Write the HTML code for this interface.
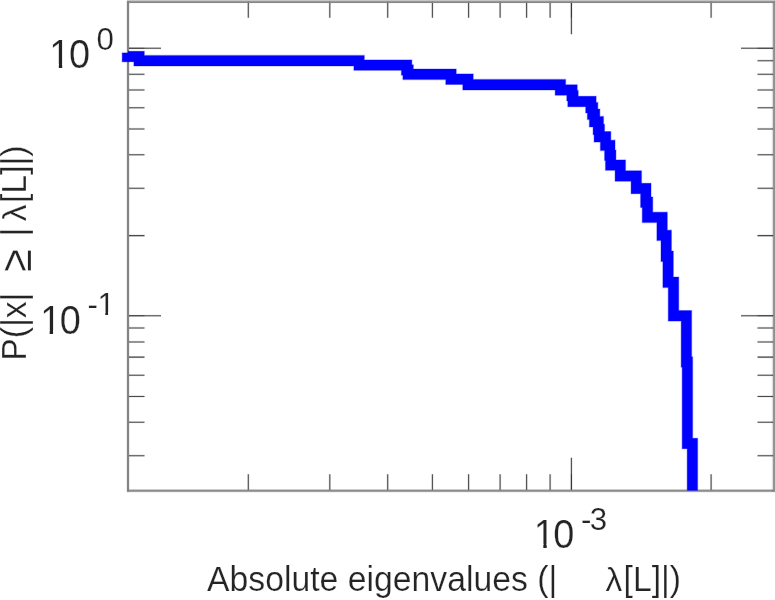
<!DOCTYPE html>
<html lang="en"><head><meta charset="utf-8"><title>Absolute eigenvalues CCDF</title>
<style>html,body{margin:0;padding:0;background:#fff;}body{width:775px;height:600px;overflow:hidden;}svg{display:block;}text{font-family:"Liberation Sans",sans-serif;fill:#242424;stroke:#fff;stroke-width:0.22px;}</style></head><body>
<svg width="775" height="600" viewBox="0 0 775 600">
<rect width="775" height="600" fill="#fff"/>
<defs><clipPath id="cb"><rect x="128" y="0" width="647" height="491.6"/></clipPath></defs>
<g>
<g fill="none" stroke-linecap="butt">
<path d="M248.3 490.7 v-16.5 M248.3 1.2 v16.5 M329.8 490.7 v-16.5 M329.8 1.2 v16.5 M387.7 490.7 v-16.5 M387.7 1.2 v16.5 M432.4 490.7 v-16.5 M432.4 1.2 v16.5 M468.6 490.7 v-16.5 M468.6 1.2 v16.5 M500.1 490.7 v-16.5 M500.1 1.2 v16.5 M526.6 490.7 v-16.5 M526.6 1.2 v16.5 M550.1 490.7 v-16.5 M550.1 1.2 v16.5 M711.1 490.7 v-16.5 M711.1 1.2 v16.5 M128.0 60.7 h16.5 M774.0 60.7 h-16.5 M128.0 74.3 h16.5 M774.0 74.3 h-16.5 M128.0 89.9 h16.5 M774.0 89.9 h-16.5 M128.0 107.8 h16.5 M774.0 107.8 h-16.5 M128.0 128.9 h16.5 M774.0 128.9 h-16.5 M128.0 154.8 h16.5 M774.0 154.8 h-16.5 M128.0 188.3 h16.5 M774.0 188.3 h-16.5 M128.0 235.6 h16.5 M774.0 235.6 h-16.5 M128.0 327.9 h16.5 M774.0 327.9 h-16.5 M128.0 341.9 h16.5 M774.0 341.9 h-16.5 M128.0 357.1 h16.5 M774.0 357.1 h-16.5 M128.0 375.2 h16.5 M774.0 375.2 h-16.5 M128.0 396.4 h16.5 M774.0 396.4 h-16.5 M128.0 422.2 h16.5 M774.0 422.2 h-16.5 M128.0 455.7 h16.5 M774.0 455.7 h-16.5 M571.4 490.7 v-33.0 M571.4 1.2 v33.0 M128.0 48.2 h33.0 M774.0 48.2 h-33.0 M128.0 315.8 h33.0 M774.0 315.8 h-33.0" stroke="#000" stroke-opacity="0.12" stroke-width="2.3"/>
<path d="M248.3 490.7 v-16.5 M248.3 1.2 v16.5 M329.8 490.7 v-16.5 M329.8 1.2 v16.5 M387.7 490.7 v-16.5 M387.7 1.2 v16.5 M432.4 490.7 v-16.5 M432.4 1.2 v16.5 M468.6 490.7 v-16.5 M468.6 1.2 v16.5 M500.1 490.7 v-16.5 M500.1 1.2 v16.5 M526.6 490.7 v-16.5 M526.6 1.2 v16.5 M550.1 490.7 v-16.5 M550.1 1.2 v16.5 M711.1 490.7 v-16.5 M711.1 1.2 v16.5 M128.0 60.7 h16.5 M774.0 60.7 h-16.5 M128.0 74.3 h16.5 M774.0 74.3 h-16.5 M128.0 89.9 h16.5 M774.0 89.9 h-16.5 M128.0 107.8 h16.5 M774.0 107.8 h-16.5 M128.0 128.9 h16.5 M774.0 128.9 h-16.5 M128.0 154.8 h16.5 M774.0 154.8 h-16.5 M128.0 188.3 h16.5 M774.0 188.3 h-16.5 M128.0 235.6 h16.5 M774.0 235.6 h-16.5 M128.0 327.9 h16.5 M774.0 327.9 h-16.5 M128.0 341.9 h16.5 M774.0 341.9 h-16.5 M128.0 357.1 h16.5 M774.0 357.1 h-16.5 M128.0 375.2 h16.5 M774.0 375.2 h-16.5 M128.0 396.4 h16.5 M774.0 396.4 h-16.5 M128.0 422.2 h16.5 M774.0 422.2 h-16.5 M128.0 455.7 h16.5 M774.0 455.7 h-16.5 M571.4 490.7 v-33.0 M571.4 1.2 v33.0 M128.0 48.2 h33.0 M774.0 48.2 h-33.0 M128.0 315.8 h33.0 M774.0 315.8 h-33.0" stroke="#4a4a4a" stroke-width="1.05"/>
<path d="M571.4 490.7 v-16.5 M571.4 1.2 v16.5 M128.0 48.2 h16.5 M774.0 48.2 h-16.5 M128.0 315.8 h16.5 M774.0 315.8 h-16.5" stroke="#1c1c1c" stroke-opacity="0.5" stroke-width="1.05"/>
</g>
<g fill="none">
<path d="M128.0 1 V491.9" stroke="#000" stroke-opacity="0.1" stroke-width="3.4"/>
<path d="M128.0 1 V491.7" stroke="#848484" stroke-width="2"/>
<path d="M127.0 490.7 H776" stroke="#000" stroke-opacity="0.1" stroke-width="3.4"/>
<path d="M127.0 490.7 H776" stroke="#8a8a8a" stroke-width="2"/>
<path d="M774.8 1 V491.7" stroke="#000" stroke-opacity="0.12" stroke-width="6"/>
<path d="M774.6 1 V491.7" stroke="#909090" stroke-width="3"/>
<rect x="127.0" y="-2" width="650" height="3.4" fill="#cacaca" stroke="none"/>
<path d="M127.0 2.0 H776" stroke="#000" stroke-opacity="0.1" stroke-width="2.6"/>
<path d="M127.0 2.1 H776" stroke="#868686" stroke-width="1.6"/>
</g>
</g>
<g>
<rect x="121.6" y="52.3" width="7" height="10.1" fill="#0000ff" fill-opacity="0.3"/>
<rect x="122.2" y="52.9" width="6.3" height="8.9" fill="#0000ff"/>
<g clip-path="url(#cb)" fill="none" stroke="#0000ff" stroke-linejoin="miter" stroke-miterlimit="10" stroke-linecap="butt"><path d="M128 56.5 L139.1 56.5 L139.1 60.7 L359.1 60.7 L359.1 65.1 L406.6 65.1 L406.6 70.0 L408.1 70.0 L408.1 74.3 L451 74.3 L451 79.2 L468 79.2 L468 84.7 L560.4 84.7 L560.4 90.0 L572.0 90.0 L572.0 95.7 L573.0 95.7 L573.0 101.5 L590.9 101.5 L590.9 107.7 L592.6 107.7 L592.6 114.3 L594.6 114.3 L594.6 121.7 L598.3 121.7 L598.3 129.5 L599.3 129.5 L599.3 136.8 L605.6 136.8 L605.6 145.4 L609.8 145.4 L609.8 155.2 L610.7 155.2 L610.7 165.1 L620.3 165.1 L620.3 176.0 L636.3 176.0 L636.3 188.5 L645.8 188.5 L645.8 202.2 L647.5 202.2 L647.5 217.4 L662.1 217.4 L662.1 235.4 L666.2 235.4 L666.2 256.3 L668.1 256.3 L668.1 282.3 L673.5 282.3 L673.5 315.8 L686.4 315.8 L686.4 362.0 L687.4 362.0 L687.4 443.5 L692.4 443.5 L692.4 490.6" stroke-width="11.7" stroke-opacity="0.3"/><path d="M128 56.5 L139.1 56.5 L139.1 60.7 L359.1 60.7 L359.1 65.1 L406.6 65.1 L406.6 70.0 L408.1 70.0 L408.1 74.3 L451 74.3 L451 79.2 L468 79.2 L468 84.7 L560.4 84.7 L560.4 90.0 L572.0 90.0 L572.0 95.7 L573.0 95.7 L573.0 101.5 L590.9 101.5 L590.9 107.7 L592.6 107.7 L592.6 114.3 L594.6 114.3 L594.6 121.7 L598.3 121.7 L598.3 129.5 L599.3 129.5 L599.3 136.8 L605.6 136.8 L605.6 145.4 L609.8 145.4 L609.8 155.2 L610.7 155.2 L610.7 165.1 L620.3 165.1 L620.3 176.0 L636.3 176.0 L636.3 188.5 L645.8 188.5 L645.8 202.2 L647.5 202.2 L647.5 217.4 L662.1 217.4 L662.1 235.4 L666.2 235.4 L666.2 256.3 L668.1 256.3 L668.1 282.3 L673.5 282.3 L673.5 315.8 L686.4 315.8 L686.4 362.0 L687.4 362.0 L687.4 443.5 L692.4 443.5 L692.4 490.6" stroke-width="10.4"/></g>
<g opacity="0.999">
<text transform="translate(49.32 68.1) scale(0.947 1)" font-size="40"><tspan x="0">1</tspan><tspan x="20.70">0</tspan></text>
<path transform="translate(49.32 68.1) scale(0.947 1)" fill="#fff" d="M2.00 -4.00 H10.04 V1 H2.00 Z M13.60 -4.00 H21.20 V1 H13.60 Z"/>
<text x="96.38" y="49.6" font-size="31.3">0</text>
<text transform="translate(40.17 334.0) scale(0.947 1)" font-size="40"><tspan x="0">1</tspan><tspan x="20.75">0</tspan></text>
<path transform="translate(40.17 334.0) scale(0.947 1)" fill="#fff" d="M2.00 -4.00 H10.04 V1 H2.00 Z M13.60 -4.00 H21.20 V1 H13.60 Z"/>
<text y="315.4" font-size="31.3"><tspan x="87.52">-</tspan><tspan x="97.42">1</tspan></text>
<path fill="#fff" d="M98.99 312.05 H105.28 V316.4 H98.99 Z M108.06 312.05 H114.01 V316.4 H108.06 Z"/>
<text transform="translate(533.82 548.0) scale(0.947 1)" font-size="40"><tspan x="0">1</tspan><tspan x="20.59">0</tspan></text>
<path transform="translate(533.82 548.0) scale(0.947 1)" fill="#fff" d="M2.00 -4.00 H10.04 V1 H2.00 Z M13.60 -4.00 H21.20 V1 H13.60 Z"/>
<text y="529.8" font-size="31.3"><tspan x="581.02">-</tspan><tspan x="589.71">3</tspan></text>
<text transform="translate(207.1 590.7) scale(0.981 1)" font-size="34.4">Absolute eigenvalues (|</text>
<text x="605.4" y="590.7" font-size="33.5">λ</text>
<text transform="translate(623.60 590.7) scale(0.981 1)" font-size="34.4">[L]|)</text>
<g transform="translate(25.6 360.8) rotate(-90)">
<text transform="scale(0.981 1)" font-size="34.4">P(|x|</text>
<text transform="translate(88.88 5.6) scale(0.94 1)" font-size="44">≥</text>
<text transform="translate(124.4 0) scale(0.981 1)" font-size="34.4">|</text>
<text x="139.5" y="0" font-size="33.5">λ</text>
<text transform="translate(157.80 0) scale(0.981 1)" font-size="34.4">[L]|)</text>
</g>
</g>
</g>
</svg></body></html>
